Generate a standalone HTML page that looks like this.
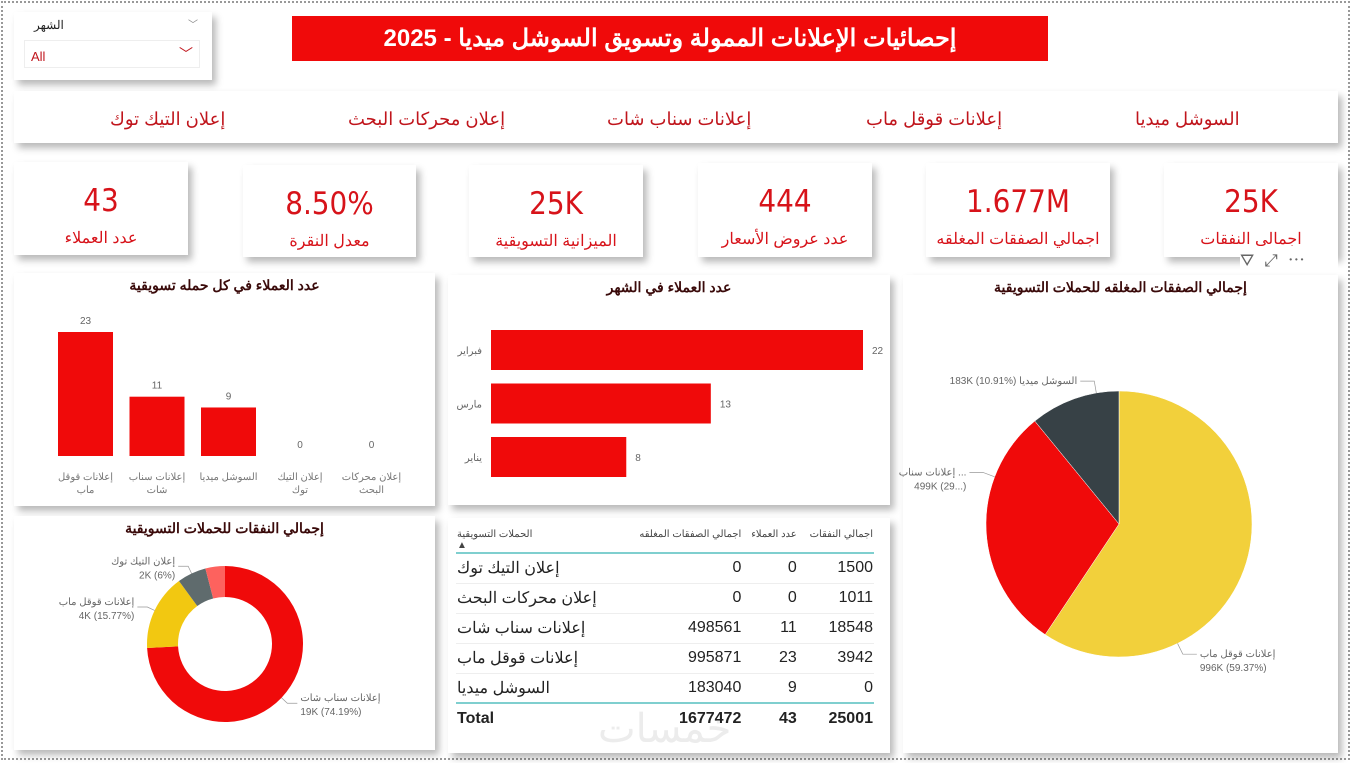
<!DOCTYPE html>
<html><head><meta charset="utf-8">
<style>
body{margin:0;width:1354px;height:763px;background:#fff;overflow:hidden;font-family:"Liberation Sans","Noto Sans CJK SC",sans-serif;position:relative}
.frame{position:absolute;left:1px;top:1px;width:1349px;height:759px;border:2px dotted #999;box-sizing:border-box}
.card{position:absolute;background:#fff;box-shadow:4px 5px 7px rgba(0,0,0,0.28)}
.kv{position:absolute;left:0;right:0;text-align:center;color:#d7131a}
.kv .n{font-size:31px;line-height:34px;margin-top:22px;font-family:"DejaVu Sans Condensed","Liberation Sans",sans-serif}
.kv .l{font-size:16px;margin-top:10px}
.nav{position:absolute;top:107px;font-size:18px;color:#c0151c}
.ttl{position:absolute;left:0;right:0;text-align:center;font-weight:bold;font-size:14px;color:#3a0a0a}
svg{position:absolute;left:0;top:0}
table{border-collapse:collapse}
</style></head><body>
<div class="frame"></div>

<div class="card" style="left:14px;top:12px;width:198px;height:68px">
  <div style="position:absolute;left:20px;top:6px;font-size:12px;color:#222">الشهر</div>
  <div style="position:absolute;right:14px;top:4px;font-size:10px;color:#888">﹀</div>
  <div style="position:absolute;left:10px;top:28px;width:176px;height:28px;border:1px solid #eee;box-sizing:border-box">
    <span style="position:absolute;left:6px;top:8px;font-size:13px;color:#c0151c">All</span>
    <span style="position:absolute;right:6px;top:3px;font-size:14px;color:#c0151c">﹀</span>
  </div>
</div>

<div style="position:absolute;left:292px;top:16px;width:756px;height:45px;background:#f00a0a;color:#fff;font-weight:bold;font-size:24px;text-align:center;line-height:45px">إحصائيات الإعلانات الممولة وتسويق السوشل ميديا - 2025</div>

<div class="card" style="left:14px;top:91px;width:1324px;height:52px"></div>
<div class="nav" style="left:1135px;top:109px">السوشل ميديا</div>
<div class="nav" style="left:866px;top:109px">إعلانات قوقل ماب</div>
<div class="nav" style="left:607px;top:109px">إعلانات سناب شات</div>
<div class="nav" style="left:348px;top:109px">إعلان محركات البحث</div>
<div class="nav" style="left:110px;top:109px">إعلان التيك توك</div>

<div class="card" style="left:14px;top:162px;width:174px;height:93px"><div class="kv"><div class="n">43</div><div class="l">عدد العملاء</div></div></div>
<div class="card" style="left:243px;top:165px;width:173px;height:92px"><div class="kv"><div class="n">8.50%</div><div class="l">معدل النقرة</div></div></div>
<div class="card" style="left:469px;top:165px;width:174px;height:92px"><div class="kv"><div class="n">25K</div><div class="l">الميزانية التسويقية</div></div></div>
<div class="card" style="left:698px;top:163px;width:174px;height:94px"><div class="kv"><div class="n">444</div><div class="l">عدد عروض الأسعار</div></div></div>
<div class="card" style="left:926px;top:163px;width:184px;height:94px"><div class="kv"><div class="n">1.677M</div><div class="l">اجمالي الصفقات المغلقه</div></div></div>
<div class="card" style="left:1164px;top:163px;width:174px;height:94px"><div class="kv"><div class="n">25K</div><div class="l">اجمالي النفقات</div></div></div>
<div style="position:absolute;left:1240px;top:246px;width:98px;height:26px;background:#fff;color:#666;font-size:17px;letter-spacing:10px">⛛⤢⋯</div>

<div class="card" style="left:14px;top:273px;width:421px;height:233px"><div class="ttl" style="top:4px">عدد العملاء في كل حمله تسويقية</div></div>
<div class="card" style="left:448px;top:275px;width:442px;height:230px"><div class="ttl" style="top:4px">عدد العملاء في الشهر</div></div>
<div class="card" style="left:903px;top:275px;width:435px;height:478px"><div class="ttl" style="top:4px">إجمالي الصفقات المغلقه  للحملات التسويقية</div></div>
<div class="card" style="left:14px;top:516px;width:421px;height:234px"><div class="ttl" style="top:4px">إجمالي النفقات للحملات  التسويقية</div></div>
<div class="card" style="left:448px;top:518px;width:442px;height:235px">
<table style="position:absolute;left:8px;top:7px;width:418px;font-size:16px;color:#222">
<tr style="font-size:10px;color:#444;height:27px;border-bottom:2px solid #7fcfcf;vertical-align:top"><td style="text-align:left;padding-top:4px">الحملات التسويقية<br>▲</td><td style="text-align:right;padding-top:4px">اجمالي الصفقات المغلقه</td><td style="text-align:right;padding-top:4px">عدد العملاء</td><td style="text-align:right;padding-top:4px">اجمالي النفقات</td></tr>
<tr style="height:30px;border-bottom:1px solid #eee"><td>إعلان التيك توك</td><td align="right">0</td><td align="right">0</td><td align="right">1500</td></tr>
<tr style="height:30px;border-bottom:1px solid #eee"><td>إعلان محركات البحث</td><td align="right">0</td><td align="right">0</td><td align="right">1011</td></tr>
<tr style="height:30px;border-bottom:1px solid #eee"><td>إعلانات سناب شات</td><td align="right">498561</td><td align="right">11</td><td align="right">18548</td></tr>
<tr style="height:30px;border-bottom:1px solid #eee"><td>إعلانات قوقل ماب</td><td align="right">995871</td><td align="right">23</td><td align="right">3942</td></tr>
<tr style="height:30px;border-bottom:2px solid #7fcfcf"><td>السوشل ميديا</td><td align="right">183040</td><td align="right">9</td><td align="right">0</td></tr>
<tr style="height:30px;font-weight:bold"><td>Total</td><td align="right">1677472</td><td align="right">43</td><td align="right">25001</td></tr>
</table>
<div style="position:absolute;left:150px;top:188px;font-size:40px;color:#ececec">خمسات</div>
</div>

<svg id="charts" width="1354" height="763"></svg>

<script>
const campCats=["إعلانات قوقل ماب","إعلانات سناب شات","السوشل ميديا","إعلان التيك توك","إعلان محركات البحث"];
const campLine2=["ماب","شات","","توك","البحث"];
const campLine1=["إعلانات قوقل","إعلانات سناب","السوشل ميديا","إعلان التيك","إعلان محركات"];
const campCustomers=[23,11,9,0,0];
const monthCats=["فبراير","مارس","يناير"];
const monthCustomers=[22,13,8];
const pieCats=["إعلانات قوقل ماب","إعلانات سناب ...","السوشل ميديا"];
const pieValues=[995871,498561,183040];
const pieLabels=["996K (59.37%)","499K (29...)","183K (10.91%)"];
const pieColors=["#f2d03b","#f00a0a","#374146"];
const donutCats=["إعلانات سناب شات","إعلانات قوقل ماب","إعلان التيك توك","إعلان محركات البحث"];
const donutValues=[18548,3942,1500,1011];
const donutLabels=["19K (74.19%)","4K (15.77%)","2K (6%)",""];
const donutColors=["#f00a0a","#f2c811","#5f6b6d","#fd625e"];

const svg=document.getElementById('charts');
const NS='http://www.w3.org/2000/svg';
function mk(t,a,txt){const e=document.createElementNS(NS,t);for(const k in a)e.setAttribute(k,a[k]);if(txt!==undefined)e.textContent=txt;svg.appendChild(e);return e;}

const vBase=456,vScale=124/23,vX0=58,vStep=71.5,vW=55;
const vx=i=>vX0+i*vStep, vy=v=>vBase-v*vScale;
campCustomers.forEach((v,i)=>{
  const r=mk('rect',{x:vx(i),y:vy(v),width:vW,height:vBase-vy(v),fill:'#f00a0a'});
  
  
  const t=mk('text',{x:vx(i)+vW/2,y:vy(v)-8,'text-anchor':'middle','font-size':10,fill:'#666'},String(v));
  
  
  const c1=mk('text',{x:vx(i)+vW/2,y:480,'text-anchor':'middle','font-size':10,fill:'#777'},campLine1[i]);
  
  
  const c2=mk('text',{x:vx(i)+vW/2,y:493,'text-anchor':'middle','font-size':10,fill:'#777'},campLine2[i]);
  
  
});

const hX0=491,hScale=372/22,hY0=330,hStep=53.5,hH=40;
const hx=v=>hX0+v*hScale;
monthCustomers.forEach((v,i)=>{
  const y=hY0+i*hStep;
  const r=mk('rect',{x:hX0,y:y,width:hx(v)-hX0,height:hH,fill:'#f00a0a'});
  
  
  const t=mk('text',{x:hx(v)+9,y:y+hH/2+4,'font-size':10,fill:'#666'},String(v));
  
  
  const c=mk('text',{x:482,y:y+hH/2+4,'text-anchor':'end','font-size':10,fill:'#666'},monthCats[i]);
  
  
});

function arcPath(cx,cy,r,ri,a0,a1){
  const p=(a,rr)=>[cx+rr*Math.sin(a),cy-rr*Math.cos(a)];
  const lg=(a1-a0)>Math.PI?1:0;
  const [x0,y0]=p(a0,r),[x1,y1]=p(a1,r);
  if(ri<=0)return `M${cx},${cy}L${x0},${y0}A${r},${r} 0 ${lg} 1 ${x1},${y1}Z`;
  const [x2,y2]=p(a1,ri),[x3,y3]=p(a0,ri);
  return `M${x0},${y0}A${r},${r} 0 ${lg} 1 ${x1},${y1}L${x2},${y2}A${ri},${ri} 0 ${lg} 0 ${x3},${y3}Z`;
}

// pie (labels follow Power BI style: pushed outward with larger leader radius)
const pcx=1119,pcy=524,pr=133;
const ptot=pieValues.reduce((a,b)=>a+b,0);
let acc=0;
pieValues.forEach((v,i)=>{
  const a0=acc/ptot*2*Math.PI; acc+=v; const a1=acc/ptot*2*Math.PI;
  const s=mk('path',{d:arcPath(pcx,pcy,pr,0,a0,a1),fill:pieColors[i],stroke:'#fff','stroke-width':0.5});
  
  
  // anchor on the outer edge nearer the lower part of each slice
  const am=a0+(a1-a0)*(i===2?0.75:0.72);
  const sx=pcx+pr*Math.sin(am), sy=pcy-pr*Math.cos(am);
  const ex=pcx+(pr+12)*Math.sin(am), ey=pcy-(pr+12)*Math.cos(am);
  const right=Math.sin(am)>0;
  const lx=right?ex+14:ex-14;
  mk('polyline',{points:`${sx},${sy} ${ex},${ey} ${lx},${ey}`,fill:'none',stroke:'#999','stroke-width':0.7});
  if(i===2){
    const t=mk('text',{x:lx-3,y:ey+3,'text-anchor':'end','font-size':10,fill:'#666'},pieLabels[i]+' '+pieCats[i]);
    
    
  }else{
    const anc=right?'start':'end', tx=right?lx+3:lx-3;
    const t1=mk('text',{x:tx,y:ey+3,'text-anchor':anc,'font-size':10,fill:'#666'},pieCats[i]);
    
    
    const t2=mk('text',{x:tx,y:ey+17,'text-anchor':anc,'font-size':10,fill:'#666'},pieLabels[i]);
    
    
  }
});

const dcx=225,dcy=644,dr=78,dri=47;
const dtot=donutValues.reduce((a,b)=>a+b,0);
acc=0;
donutValues.forEach((v,i)=>{
  const a0=acc/dtot*2*Math.PI; acc+=v; const a1=acc/dtot*2*Math.PI;
  const s=mk('path',{d:arcPath(dcx,dcy,dr,dri,a0,a1),fill:donutColors[i]});
  
  
  if(!donutLabels[i])return;
  const am=(a0+a1)/2;
  const ex=dcx+(dr+8)*Math.sin(am), ey=dcy-(dr+8)*Math.cos(am);
  const right=Math.sin(am)>0;
  const lx=right?ex+10:ex-10;
  mk('polyline',{points:`${dcx+dr*Math.sin(am)},${dcy-dr*Math.cos(am)} ${ex},${ey} ${lx},${ey}`,fill:'none',stroke:'#999','stroke-width':0.7});
  const anc=right?'start':'end', tx=right?lx+3:lx-3;
  const t1=mk('text',{x:tx,y:ey-2,'text-anchor':anc,'font-size':10,fill:'#666'},donutCats[i]);
  
  
  const t2=mk('text',{x:tx,y:ey+12,'text-anchor':anc,'font-size':10,fill:'#666'},donutLabels[i]);
  
  
});
</script>
</body></html>
